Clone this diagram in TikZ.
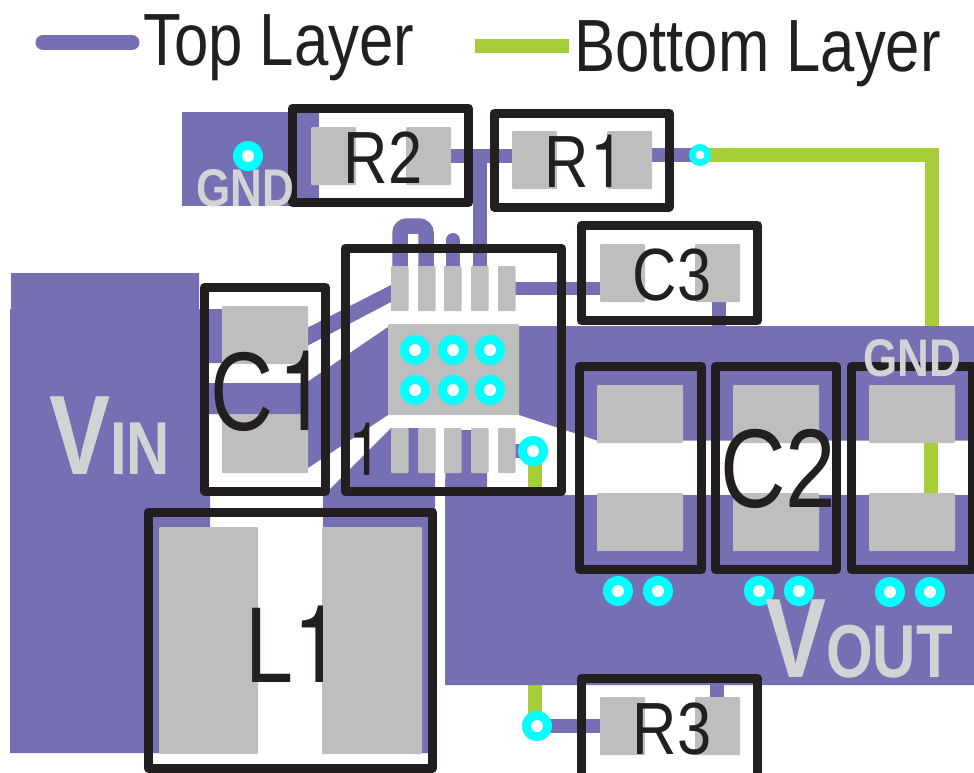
\documentclass[tikz,border=0pt]{standalone}
\usepackage{fontspec}
\setmainfont{Liberation Sans}
\newfontfamily\heros{TeX Gyre Heros}
\definecolor{topl}{HTML}{7570B3}
\definecolor{botl}{HTML}{A6CE39}
\definecolor{padc}{HTML}{BEBEBE}
\definecolor{ink}{HTML}{231F20}
\definecolor{lbl}{HTML}{D1D3D4}
\definecolor{viac}{HTML}{00FFFF}
\newcommand{\fz}[1]{\fontsize{#1}{#1}\selectfont}
\newcommand{\cond}[2]{\scalebox{#1}[1]{#2}}
\tikzset{
  lab/.style={inner sep=0pt,anchor=base,text=ink},
  silk/.style={inner sep=0pt,anchor=base,text=lbl,font=\bfseries},
  padr/.style={fill=padc,rounded corners=1pt},
  plane/.style={fill=topl},
  trace/.style={draw=topl,line width=13.5pt},
  btrace/.style={draw=botl,line width=14pt},
  outline/.style={draw=ink,line width=9pt,line join=round},
}
\newcommand{\via}[3]{%
  \fill[viac] (#1,#2) circle (#3);
  \fill[white] (#1,#2) circle ({#3*0.4});}
\begin{document}
\begin{tikzpicture}[x=1pt,y=-1pt]
\useasboundingbox (0,0) rectangle (974,772);
\clip (0,0) rectangle (974,772);
% legend
\draw[topl,line width=15pt,line cap=round] (43,42.5) -- (132,42.5);
\draw[btrace] (475,46) -- (569,46);
\node[lab,anchor=base west] (toplabel) at (143,65) {\fz{74}\cond{.835}{Top Layer}};
\node[lab,anchor=base west] (botlabel) at (574,71) {\fz{74}\cond{.833}{Bottom Layer}};
% bottom layer traces
\draw[btrace,line cap=butt] (700,155) -- (932,155) -- (932,330);
\draw[btrace] (931,440) -- (931,496);
\draw[btrace] (535,451) -- (535,496);
\draw[btrace] (535,680) -- (535,726);
% copper planes
\fill[plane] (182,112) rectangle (319,206);
\fill[plane] (11,273) -- (199,273) -- (199,309) -- (222,309) -- (222,363) -- (205,363) -- (205,495)
  -- (210,495) -- (210,753) -- (10,753) -- (10,309) -- (11,309) -- cycle;
\fill[plane] (388,327) -- (316,376) -- (306,383) -- (204,383) -- (204,414) -- (308,414) -- (308,468) -- (388,415) -- cycle;
\fill[plane] (391,302) -- (307,346) -- (307,328) -- (391,285) -- cycle;
\fill[plane] (391,428) -- (323,496) -- (323,753) -- (435,753) -- (435,428) -- cycle;
\fill[plane] (519,326) -- (974,326) -- (974,440.5) -- (597,440.5) -- (519,415) -- cycle;
\fill[plane] (446,430) -- (487,430) -- (487,495) -- (974,495) -- (974,685) -- (445,685) -- (445,495) -- cycle;
% top layer traces
\draw[trace] (451,156) -- (512,156);
\draw[trace] (480,156) -- (480,270);
\draw[trace] (652,155) -- (700,155);
\draw[topl,line width=15.5pt,rounded corners=7pt] (400,270) -- (400,226) -- (426,226) -- (426,270);
\draw[topl,line width=14pt,line cap=round] (453,270) -- (453,240);
\draw[trace] (510,288.5) -- (600,288.5);
\draw[trace] (719,298) -- (719,326);
\draw[trace] (510,451) -- (533,451);
\draw[trace] (537,726) -- (600,726);
\draw[trace] (717,680) -- (717,700);
% pads R2 R1 C3 R3
\foreach \xa/\ya in {311/127,406/127,512/131,607/131,600/244,695/244,600/697,695/697}
  \fill[padr] (\xa,\ya) rectangle ++(45,58);
% pads C1
\fill[padr] (222,306) rectangle (308,364);
\fill[padr] (222,414) rectangle (308,473);
% pads C2 group
\foreach \xa in {597,733,869}{
  \fill[padr] (\xa,385) rectangle ++(86,58);
  \fill[padr] (\xa,493) rectangle ++(86,58);}
% pads L1
\fill[padr] (159,527) rectangle (258,754);
\fill[padr] (322,527) rectangle (422,754);
% IC pins and exposed pad
\foreach \xa in {391,418,444,471,498}{
  \fill[padr] (\xa,266) rectangle ++(17.5,45);
  \fill[padr] (\xa,428) rectangle ++(17.5,45);}
\fill[padr] (388,324) rectangle (519,415);
% vias
\via{248}{156}{15}
\via{700}{155}{11}
\foreach \xa in {415,453,490}{\via{\xa}{350}{15}\via{\xa}{390}{15}}
\via{533}{451}{15}
\via{537}{726}{15}
\foreach \xa in {618,658,759,799}{\via{\xa}{591}{15}}
\foreach \xa in {890,930}{\via{\xa}{592}{15}}
% component outlines
\draw[outline] (292.5,108) rectangle (468.5,202.5);
\draw[outline] (494,113) rectangle (669,207);
\draw[outline] (581.5,225.5) rectangle (757.5,320.5);
\draw[outline] (204.5,287.5) rectangle (325.5,491);
\draw[outline] (345.5,248) rectangle (561.5,491);
\draw[outline] (579.5,366.5) rectangle (701.5,569.5);
\draw[outline] (715.5,366.5) rectangle (836.5,569.5);
\draw[outline] (851.5,366.5) rectangle (972.5,569.5);
\draw[outline] (148.5,512) rectangle (432.5,768);
\draw[outline] (581.5,678.5) rectangle (757.5,790);
% reference designators
\node[lab] (r2) at (383,183) {\fz{74}\cond{.83}{R2}};
\node[lab] (r1) at (584.5,187) {\fz{74}\cond{.83}{R\kern2pt{\heros 1}}};
\node[lab] (c3) at (672,300) {\fz{74}\cond{.83}{C3}};
\node[lab] (r3) at (672,754) {\fz{74}\cond{.83}{R3}};
\node[lab] (c1) at (269,430) {\fz{112}\cond{.78}{C\kern6pt{\heros 1}}};
\node[lab] (c2) at (778,507) {\fz{112}\cond{.81}{C2}};
\node[lab] (l1) at (293.5,682) {\fz{108}\cond{.8}{L{\heros 1}}};
\node[lab] (pinone) at (366,475) {\fz{74}\cond{.83}{\heros 1}};
% silk labels
\node[silk] (gndA) at (245,206) {\fz{53}\cond{.83}{GND}};
\node[silk] (gndB) at (912,376) {\fz{53}\cond{.83}{GND}};
\node[silk,anchor=base west] (vin) at (49,474) {\fz{113}\cond{.81}{V}\fz{75}\cond{.8}{IN}};
\node[silk,anchor=base west] (vout) at (765,677) {\fz{113}\cond{.81}{V}\fz{75}\cond{.8}{OUT}};
\end{tikzpicture}
\end{document}
